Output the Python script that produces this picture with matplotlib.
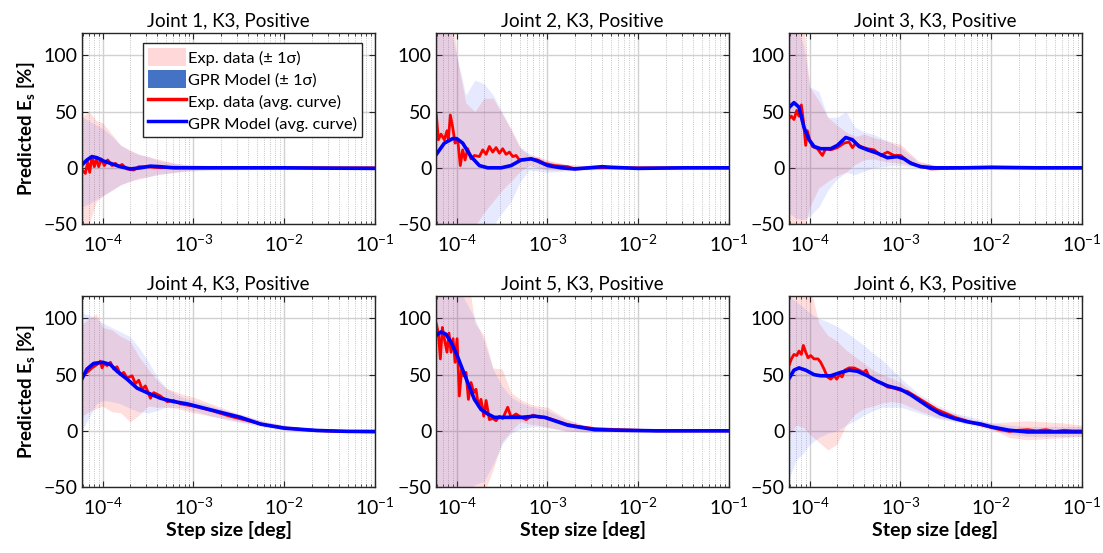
import numpy as np
import matplotlib
matplotlib.use("Agg")
import matplotlib.pyplot as plt
from matplotlib.patches import Patch
from matplotlib.lines import Line2D
from matplotlib.ticker import LogLocator

plt.rcParams["font.family"] = ["Lato", "DejaVu Sans"]
plt.rcParams["mathtext.fontset"] = "custom"
plt.rcParams["mathtext.rm"] = "Lato"
plt.rcParams["mathtext.bf"] = "Lato:bold"
plt.rcParams["mathtext.default"] = "regular"

# log10 of step size [deg] for the +/- 1 sigma bands
BAND_LX = [-4.23, -4.15, -4.07, -4.0, -3.9, -3.8, -3.7, -3.6, -3.5, -3.4, -3.3, -3.2,
           -3.1, -3.0, -2.8, -2.6, -2.4, -2.2, -2.0, -1.8, -1.6, -1.4, -1.2, -1.0]

# Joint 1
J1_EXP_LX = [-4.224, -4.191, -4.165, -4.143, -4.118, -4.092, -4.07, -4.044, -4.018, -3.982,
             -3.945, -3.897, -3.86, -3.824, -3.787, -3.732, -3.658, -3.603, -3.511, -3.364,
             -3.2, -3.0, -2.5, -2.0, -1.5, -1.0]
J1_EXP_MEAN = [-2, -5, 5, -4, 10, 1, 8, 1, 8, 2, 7, 2, 4, 1, 3, -1, -2, 1, 1, 0,
               0.5, 0, 0, 0, 0, 0]
J1_GPR_LX = [-4.224, -4.173, -4.118, -4.063, -3.989, -3.915, -3.805, -3.695, -3.585, -3.474,
             -3.364, -3.217, -3.0, -2.5, -2.0, -1.5, -1.0]
J1_GPR_MEAN = [3, 7, 10, 9, 6, 4, 1, -1, 0, 1.5, 1, 0, 0, 0, 0, -0.3, -0.5]
J1_EXP_LO = [-60, -50, -30, -25, -20, -15, -12, -10, -8, -6, -5, -4, -3, -2, -1.5, -1,
             -1, -1, -1, -1, -1, -1, -1, -1]
J1_EXP_HI = [45, 50, 42, 40, 30, 20, 16, 12, 10, 8, 6, 4, 3, 2, 1.5, 1, 1, 1, 1, 1, 1, 1, 1, 1]
J1_GPR_LO = [-35, -32, -28, -25, -20, -15, -12, -9, -8, -6, -5, -4, -3, -3, -2, -2,
             -1.5, -1.5, -1.5, -1.5, -1.5, -1.5, -1.5, -1.5]
J1_GPR_HI = [45, 42, 38, 35, 28, 20, 15, 12, 10, 7, 5, 4, 3, 3, 2, 2, 1.5, 1.5, 1.5, 1.5,
             1.5, 1.5, 1.5, 1.5]

# Joint 2
J2_EXP_LX = [-4.224, -4.202, -4.173, -4.136, -4.107, -4.092, -4.07, -4.044, -4.018, -3.989,
             -3.96, -3.934, -3.908, -3.879, -3.842, -3.805, -3.75, -3.713, -3.676, -3.64,
             -3.603, -3.566, -3.529, -3.493, -3.456, -3.419, -3.382, -3.346, -3.309, -3.254,
             -3.18, -3.107, -3.033, -2.923, -2.776, -2.702, -2.5, -2.0, -1.5, -1.0]
J2_EXP_MEAN = [47, 25, 30, 25, 33, 25, 47, 36, 22, 25, 2, 16, 7, 17, 8, 11, 10, 16, 12, 19,
               14, 18, 13, 17, 12, 14, 10, 11, 7, 7, 8, 7, 4, 2, 1, -1, 0, 0, 0, 0]
J2_GPR_LX = [-4.224, -4.136, -4.044, -4.0, -3.934, -3.842, -3.75, -3.658, -3.511, -3.401,
             -3.29, -3.18, -3.107, -2.996, -2.849, -2.7, -2.55, -2.4, -2.3, -2.0, -1.5, -1.0]
J2_GPR_MEAN = [12, 22, 26, 26, 22, 10, 2, 0, 0, 2, 7, 8, 6, 2, 0, -1, 0, 1, 0.5, -0.5, 0, 0]
J2_EXP_LO = [-70, -70, -70, -70, -60, -52, -40, -30, -20, -12, -3, 2, 0, -2, -2, -1.5,
             -1, -1, -1, -1, -1, -1, -1, -1]
J2_EXP_HI = [160, 160, 160, 100, 58, 50, 62, 62, 48, 35, 18, 11, 10, 7, 3, 2, 1.5, 1, 1, 1,
             1, 1, 1, 1]
J2_GPR_LO = [-70, -70, -70, -70, -70, -65, -58, -52, -40, -30, -12, -2, -3, -4, -3, -2,
             -1.5, -1, -1, -1, -1, -1, -1, -1]
J2_GPR_HI = [150, 140, 125, 100, 65, 78, 75, 65, 50, 33, 18, 13, 9, 6, 3, 2, 1.5, 1, 1, 1,
             1, 1, 1, 1]

# Joint 3
J3_EXP_LX = [-4.224, -4.202, -4.173, -4.143, -4.118, -4.092, -4.07, -4.044, -4.026, -4.0,
             -3.971, -3.915, -3.86, -3.824, -3.768, -3.695, -3.621, -3.566, -3.529, -3.493,
             -3.438, -3.364, -3.29, -3.217, -3.143, -3.07, -2.996, -2.923, -2.813, -2.665,
             -2.3, -2.0, -1.5, -1.0]
J3_EXP_MEAN = [44, 46, 43, 51, 46, 56, 42, 20, 33, 25, 19, 17, 11, 17, 16, 18, 22, 23, 18,
               22, 19, 17, 16, 11, 14, 11, 11, 6, 2, -1, 0, 0, 0, 0]
J3_GPR_LX = [-4.224, -4.173, -4.118, -4.063, -4.007, -3.952, -3.879, -3.768, -3.695, -3.603,
             -3.529, -3.456, -3.364, -3.254, -3.143, -3.033, -2.96, -2.886, -2.776, -2.629,
             -2.3, -2.0, -1.5, -1.0]
J3_GPR_MEAN = [54, 58, 54, 36, 25, 19, 17, 17, 20, 27, 25, 19, 16, 13, 9, 10, 8, 4, 1, 0,
               0, 0.5, 0, 0]
J3_EXP_LO = [-70, -70, -60, -35, -18, -12, -7, -4, 3, 7, 8, 6, 5, 4, 1, -1, -1, -1, -1, -1,
             -1, -1, -1, -1]
J3_EXP_HI = [160, 160, 130, 72, 60, 45, 38, 32, 28, 30, 27, 25, 23, 21, 6, 2, 1.5, 1, 1, 1,
             1, 1, 1, 1]
J3_GPR_LO = [-40, -45, -46, -43, -35, -20, -10, -4, -6, -3, 0, 1, 2, 2, 0, -1, -1, -1, -1,
             -1, -1, -1, -1, -1]
J3_GPR_HI = [130, 125, 110, 72, 68, 45, 45, 50, 36, 32, 30, 26, 22, 18, 5, 2, 1.5, 1, 1, 1,
             1, 1, 1, 1]

# Joint 4
J4_EXP_LX = [-4.224, -4.173, -4.118, -4.063, -4.026, -4.007, -3.982, -3.952, -3.915, -3.879,
             -3.842, -3.805, -3.768, -3.732, -3.676, -3.64, -3.603, -3.566, -3.529, -3.474,
             -3.438, -3.364, -3.29, -3.217, -3.143, -3.0, -2.8, -2.6, -2.4, -2.2, -2.0,
             -1.7, -1.4, -1.0]
J4_EXP_MEAN = [49, 52, 56, 59, 62, 56, 60, 58, 61, 55, 57, 50, 52, 47, 49, 42, 45, 37, 40,
               29, 34, 31, 26, 27, 24, 22, 18, 13, 9, 5, 2.5, 0.5, -0.5, -1]
J4_GPR_LX = [-4.224, -4.173, -4.099, -4.0, -3.915, -3.842, -3.732, -3.621, -3.511, -3.364,
             -3.217, -3.07, -2.923, -2.776, -2.629, -2.482, -2.26, -2.0, -1.64, -1.3, -1.0]
J4_GPR_MEAN = [47, 55, 60, 61, 59, 53, 46, 38, 34, 29, 26, 24, 21, 18, 15, 12, 6, 2.4, 0.3,
               -0.5, -0.6]
J4_EXP_LO = [13, 17, 20, 22, 17, 16, 8, 14, 22, 21, 21, 20, 18, 16, 13, 10, 7, 4, 1, -0.5,
             -1, -1.5, -1.5, -1.5]
J4_EXP_HI = [95, 100, 104, 92, 90, 84, 80, 66, 55, 45, 38, 35, 32, 30, 24, 18, 13, 8, 5, 3,
             2, 1.5, 1, 1]
J4_GPR_LO = [0, 12, 24, 27, 26, 24, 20, 17, 16, 18, 21, 21, 20, 18, 13, 9, 6, 3, 0.5, -0.5,
             -1, -1.5, -1.5, -1.5]
J4_GPR_HI = [105, 103, 100, 96, 92, 88, 84, 74, 62, 48, 38, 33, 29, 27, 22, 17, 12, 8, 5, 3,
             2, 1.5, 1, 1]

# Joint 5
J5_EXP_LX = [-4.224, -4.202, -4.18, -4.158, -4.136, -4.107, -4.085, -4.063, -4.04, -4.018,
             -3.996, -3.971, -3.945, -3.923, -3.897, -3.871, -3.842, -3.812, -3.787, -3.761,
             -3.732, -3.702, -3.676, -3.64, -3.603, -3.566, -3.529, -3.493, -3.438, -3.401,
             -3.346, -3.29, -3.235, -3.162, -3.088, -3.015, -2.904, -2.794, -2.67, -2.482,
             -2.2, -1.8, -1.4, -1.0]
J5_EXP_MEAN = [95, 87, 64, 92, 82, 70, 87, 70, 82, 61, 82, 31, 55, 49, 52, 28, 43, 34, 37,
               22, 28, 13, 27, 10, 11, 9, 13, 11, 21, 12, 15, 12, 10, 14, 12, 12, 9, 6, 4, 2,
               1, 0, 0, 0]
J5_GPR_LX = [-4.224, -4.173, -4.118, -4.063, -4.0, -3.952, -3.879, -3.805, -3.732, -3.658,
             -3.585, -3.438, -3.29, -3.143, -3.033, -2.923, -2.776, -2.629, -2.482, -2.2,
             -1.8, -1.4, -1.0]
J5_GPR_MEAN = [85, 88, 86, 79, 68, 58, 43, 28, 19, 15, 12, 12, 12, 13, 12, 9, 5, 3, 1,
               0.5, 0, 0, 0]
J5_EXP_LO = [-70, -70, -70, -70, -70, -65, -55, -35, -10, 0, 8, 6, 5, 3, 0, -1, -1, -1,
             -1, -1, -1, -1, -1, -1]
J5_EXP_HI = [160, 160, 160, 160, 150, 96, 85, 56, 55, 34, 28, 24, 22, 21, 11, 5, 2, 1.5,
             1, 1, 1, 1, 1, 1]
J5_GPR_LO = [-70, -70, -65, -60, -55, -48, -45, -30, -12, -2, 2, 3, 4, 3, 0, -1, -1, -1,
             -1, -1, -1, -1, -1, -1]
J5_GPR_HI = [160, 160, 150, 130, 115, 100, 80, 55, 40, 30, 25, 22, 20, 18, 10, 5, 2, 1.5,
             1, 1, 1, 1, 1, 1]

# Joint 6
J6_EXP_LX = [-4.224, -4.202, -4.173, -4.143, -4.118, -4.092, -4.07, -4.044, -4.018, -3.989,
             -3.952, -3.908, -3.879, -3.842, -3.805, -3.768, -3.732, -3.702, -3.673, -3.643,
             -3.614, -3.566, -3.511, -3.456, -3.408, -3.379, -3.346, -3.29, -3.217, -3.143,
             -3.07, -2.996, -2.923, -2.8, -2.6, -2.4, -2.2, -2.0, -1.9, -1.8, -1.7, -1.6,
             -1.5, -1.4, -1.3, -1.2, -1.1, -1.0]
J6_EXP_MEAN = [59, 64, 68, 67, 71, 68, 76, 70, 65, 67, 64, 64, 61, 55, 48, 46, 49, 46, 50,
               48, 54, 56, 56, 54, 52, 54, 48, 45, 43, 39, 38, 36, 35, 29, 19, 12, 7, 3, 1,
               -0.5, 0.5, 1, 0, 1, -0.5, 0.5, 0, 0]
J6_GPR_LX = [-4.224, -4.173, -4.118, -4.044, -3.952, -3.879, -3.768, -3.658, -3.566, -3.474,
             -3.364, -3.254, -3.143, -3.0, -2.886, -2.776, -2.665, -2.555, -2.408, -2.261,
             -2.114, -2.0, -1.8, -1.6, -1.4, -1.2, -1.0]
J6_GPR_MEAN = [47, 54, 56, 54, 50, 49, 49, 52, 54, 53, 49, 44, 40, 37, 32, 26, 20, 15, 11,
               8, 6, 3.5, 0.5, -1, -1, -1, -1]
J6_EXP_LO = [-5, 5, 3, -3, -10, -17, -12, 5, 15, 20, 22, 25, 26, 25, 18, 12, 9, 6, 2, -6,
             -8, -7, -6, -5]
J6_EXP_HI = [160, 160, 160, 130, 96, 85, 80, 72, 66, 60, 54, 50, 47, 43, 30, 21, 15, 10, 7,
             8, 9, 8, 7, 5]
J6_GPR_LO = [-43, -26, -20, -12, -6, -2, 0, 5, 9, 14, 18, 21, 21, 21, 16, 11, 8, 5, 1, -3,
             -5, -5, -5, -5]
J6_GPR_HI = [120, 115, 110, 105, 100, 97, 93, 88, 82, 76, 69, 63, 55, 47, 33, 23, 16, 12, 7,
             5, 4, 4, 4, 4]

JOINTS = [
    (J1_EXP_LX, J1_EXP_MEAN, J1_GPR_LX, J1_GPR_MEAN, J1_EXP_LO, J1_EXP_HI, J1_GPR_LO, J1_GPR_HI),
    (J2_EXP_LX, J2_EXP_MEAN, J2_GPR_LX, J2_GPR_MEAN, J2_EXP_LO, J2_EXP_HI, J2_GPR_LO, J2_GPR_HI),
    (J3_EXP_LX, J3_EXP_MEAN, J3_GPR_LX, J3_GPR_MEAN, J3_EXP_LO, J3_EXP_HI, J3_GPR_LO, J3_GPR_HI),
    (J4_EXP_LX, J4_EXP_MEAN, J4_GPR_LX, J4_GPR_MEAN, J4_EXP_LO, J4_EXP_HI, J4_GPR_LO, J4_GPR_HI),
    (J5_EXP_LX, J5_EXP_MEAN, J5_GPR_LX, J5_GPR_MEAN, J5_EXP_LO, J5_EXP_HI, J5_GPR_LO, J5_GPR_HI),
    (J6_EXP_LX, J6_EXP_MEAN, J6_GPR_LX, J6_GPR_MEAN, J6_EXP_LO, J6_EXP_HI, J6_GPR_LO, J6_GPR_HI),
]
TITLES = [f"Joint {i}, K3, Positive" for i in range(1, 7)]
LEGEND_LABELS = ["Exp. data (\u00b1 1\u03c3)", "GPR Model (\u00b1 1\u03c3)",
                 "Exp. data (avg. curve)", "GPR Model (avg. curve)"]

EDGE = (0.15, 0.15, 0.15)

fig = plt.figure(figsize=(11.03, 5.53), dpi=100)
lefts = [82, 436, 789]
bottoms = [224, 487]
W, H = 293, 191

band_x = 10.0 ** np.array(BAND_LX)

for k, (exp_lx, exp_m, gpr_lx, gpr_m, e_lo, e_hi, g_lo, g_hi) in enumerate(JOINTS):
    row, col = divmod(k, 3)
    ax = fig.add_axes([lefts[col] / 1103, (553 - bottoms[row]) / 553, W / 1103, H / 553])
    ax.set_xscale("log")

    ax.fill_between(band_x, e_lo, e_hi, color=(1.0, 0.0, 0.0), alpha=0.13, lw=0)
    ax.fill_between(band_x, g_lo, g_hi, color=(0.25, 0.35, 1.0), alpha=0.12, lw=0)
    ax.plot(10.0 ** np.array(exp_lx), exp_m, color="red", lw=2.0)
    ax.plot(10.0 ** np.array(gpr_lx), gpr_m, color="blue", lw=2.6)

    ax.set_xlim(10 ** -4.228, 1e-1)
    ax.set_ylim(-50, 120)
    ax.set_yticks([-50, 0, 50, 100])
    ax.set_xticks([1e-4, 1e-3, 1e-2, 1e-1])
    ax.xaxis.set_minor_locator(LogLocator(base=10, subs=np.arange(2, 10), numticks=20))
    ax.set_axisbelow(True)
    ax.grid(True, which="major", color=(0.82, 0.82, 0.82), lw=1.0, ls="-")
    ax.grid(True, which="minor", axis="x", color=(0.7, 0.7, 0.7), lw=0.6, ls=":")
    ax.tick_params(which="both", direction="in", top=True, right=True, colors=EDGE,
                   labelcolor="black", labelsize=14)
    ax.tick_params(which="major", length=4, width=0.8)
    ax.tick_params(which="minor", length=2, width=0.6)
    ax.tick_params(axis="x", pad=7)
    ax.tick_params(axis="y", pad=3)
    for s in ax.spines.values():
        s.set_color(EDGE)
        s.set_linewidth(1.0)

    ax.set_title(TITLES[k], fontsize=13.5, pad=5)
    if col == 0:
        ax.set_ylabel(r"Predicted E$_{\mathbf{s}}$ [%]", fontsize=13.5, fontweight="bold",
                      labelpad=5)
    if row == 1:
        ax.set_xlabel("Step size [deg]", fontsize=14, fontweight="bold", labelpad=2)

    if k == 0:
        handles = [
            Patch(facecolor=(1.0, 0.85, 0.85), edgecolor="none"),
            Patch(facecolor="#4472C4", edgecolor="none"),
            Line2D([], [], color="red", lw=2.5),
            Line2D([], [], color="blue", lw=2.5),
        ]
        leg = ax.legend(handles, LEGEND_LABELS, loc="upper right",
                        bbox_to_anchor=(0.956, 0.948), fontsize=11.8, frameon=True,
                        fancybox=False, framealpha=1, edgecolor=EDGE, handlelength=2.3,
                        handleheight=1.35, handletextpad=0.15, borderpad=0.3,
                        labelspacing=0.22, borderaxespad=0)
        leg.get_frame().set_linewidth(1.0)

fig.savefig("out.png", dpi=100)
